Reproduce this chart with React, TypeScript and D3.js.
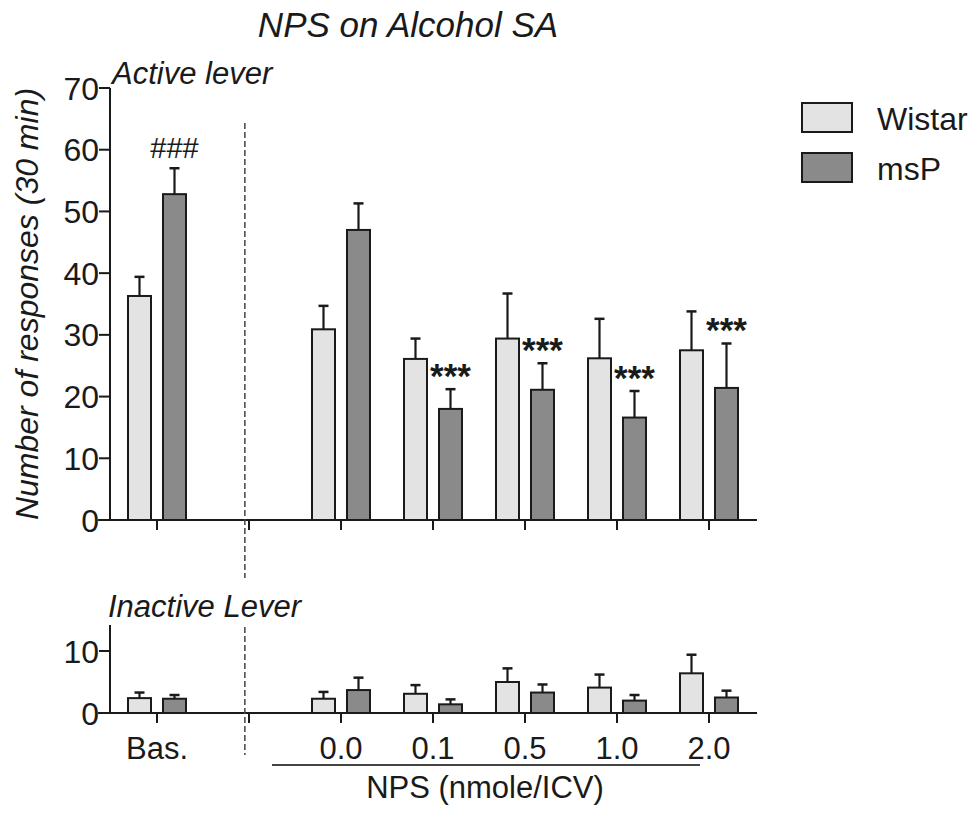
import React from "react";
import * as d3 from "d3";

const categories = ["Bas.", "", "0.0", "0.1", "0.5", "1.0", "2.0"];
const groups = ["Wistar", "msP"];

// Active lever (means and upper SEM)
const activeWistar = [36.3, null, 30.9, 26.1, 29.4, 26.2, 27.5];
const activeWistarErr = [3.1, null, 3.8, 3.3, 7.3, 6.4, 6.3];
const activeMsP = [52.8, null, 47.0, 18.0, 21.1, 16.6, 21.4];
const activeMsPErr = [4.2, null, 4.3, 3.2, 4.3, 4.3, 7.2];
const activeMarks = ["###", "", "", "***", "***", "***", "***"];

// Inactive lever
const inactiveWistar = [2.4, null, 2.3, 3.1, 5.0, 4.1, 6.4];
const inactiveWistarErr = [0.9, null, 1.1, 1.4, 2.2, 2.1, 3.0];
const inactiveMsP = [2.3, null, 3.7, 1.4, 3.3, 2.0, 2.5];
const inactiveMsPErr = [0.6, null, 2.0, 0.8, 1.3, 0.9, 1.1];

const activeTicks = [0, 10, 20, 30, 40, 50, 60, 70];
const inactiveTicks = [0, 10];

const FONT = "'Liberation Sans', Arial, Helvetica, sans-serif";
const LIGHT = "#e3e3e3";
const DARK = "#8a8a8a";
const INK = "#1a1a1a";

export default function App() {
  const x = d3.scalePoint<string>().domain(categories.map((c, i) => String(i))).range([157, 709]);
  const step = x.step();
  const yTop = d3.scaleLinear().domain([0, 70]).range([520, 88]);
  const yBot = d3.scaleLinear().domain([0, 10]).range([713, 651]);
  const axisX0 = 110;
  const axisX1 = x("6")! + 48;
  const barW = 23;
  const off = 17.5;
  const dashX = x("0")! + step * 0.955;

  const panel = (
    y: d3.ScaleLinear<number, number>,
    yMaxAxis: number,
    wVals: (number | null)[],
    wErr: (number | null)[],
    mVals: (number | null)[],
    mErr: (number | null)[],
    ticks: number[],
    key: string
  ) => {
    const base = y(0);
    const els: React.ReactNode[] = [];
    categories.forEach((c, i) => {
      const cx = x(String(i))!;
      [
        { v: wVals[i], e: wErr[i], dx: -off, fill: LIGHT },
        { v: mVals[i], e: mErr[i], dx: off, fill: DARK },
      ].forEach((b, j) => {
        if (b.v == null) return;
        const bx = cx + b.dx;
        const top = y(b.v);
        const et = y(b.v + (b.e || 0));
        els.push(
          <g key={`${key}-${i}-${j}`}>
            <line x1={bx} x2={bx} y1={top} y2={et} stroke={INK} strokeWidth={2.2} />
            <line x1={bx - 5} x2={bx + 5} y1={et} y2={et} stroke={INK} strokeWidth={2.5} />
            <rect x={bx - barW / 2} y={top} width={barW} height={base - top} fill={b.fill} stroke={INK} strokeWidth={2} />
          </g>
        );
      });
    });
    return (
      <g key={key}>
        {els}
        <line x1={axisX0} x2={axisX0} y1={y(yMaxAxis)} y2={base} stroke={INK} strokeWidth={2} />
        <line x1={axisX0 - 12} x2={axisX1} y1={base} y2={base} stroke={INK} strokeWidth={2} />
        {ticks.map((t) => (
          <g key={t}>
            <line x1={axisX0 - 11} x2={axisX0} y1={y(t)} y2={y(t)} stroke={INK} strokeWidth={2} />
            <text x={axisX0 - 11} y={y(t)} dy="0.36em" textAnchor="end" fontSize={32} fontFamily={FONT} fill={INK}>
              {t}
            </text>
          </g>
        ))}
        {categories.map((c, i) => (
          <line key={i} x1={x(String(i))!} x2={x(String(i))!} y1={base} y2={base + 10} stroke={INK} strokeWidth={2} />
        ))}
      </g>
    );
  };

  return (
    <svg width={980} height={814} style={{ position: "absolute", left: 0, top: 0, background: "#fff" }}>
      <text x={408} y={37} textAnchor="middle" fontSize={35} fontStyle="italic" fontFamily={FONT} fill={INK}>
        NPS on Alcohol SA
      </text>
      <text x={112} y={84} fontSize={31} fontStyle="italic" fontFamily={FONT} fill={INK}>
        Active lever
      </text>
      <text
        transform={`translate(38,304) rotate(-90)`}
        textAnchor="middle"
        fontSize={32}
        fontStyle="italic"
        fontFamily={FONT}
        fill={INK}
      >
        Number of responses (30 min)
      </text>

      {panel(yTop, 70, activeWistar, activeWistarErr, activeMsP, activeMsPErr, activeTicks, "top")}
      {activeMarks.map((m, i) => {
        if (!m) return null;
        const v = activeMsP[i]! + activeMsPErr[i]!;
        const cx = x(String(i))! + off;
        return m === "###" ? (
          <text key={i} x={cx} y={yTop(v) - 10} textAnchor="middle" fontSize={29} fontFamily={FONT} fill={INK}>
            {m}
          </text>
        ) : (
          <text key={i} x={cx} y={yTop(v) - 1} textAnchor="middle" fontSize={35} fontWeight="bold" fontFamily={FONT} fill={INK}>
            {m}
          </text>
        );
      })}
      <line x1={dashX} x2={dashX} y1={123} y2={578} stroke="#444" strokeWidth={1.5} strokeDasharray="6,3" />

      <text x={108} y={617} fontSize={31} fontStyle="italic" fontFamily={FONT} fill={INK}>
        Inactive Lever
      </text>
      {panel(yBot, 14.2, inactiveWistar, inactiveWistarErr, inactiveMsP, inactiveMsPErr, inactiveTicks, "bot")}
      <line x1={dashX} x2={dashX} y1={627} y2={755} stroke="#444" strokeWidth={1.5} strokeDasharray="6,3" />

      {categories.map((c, i) =>
        c ? (
          <text key={i} x={x(String(i))!} y={759} textAnchor="middle" fontSize={31} fontFamily={FONT} fill={INK}>
            {c}
          </text>
        ) : null
      )}
      <line x1={272} x2={700} y1={765} y2={765} stroke="#444" strokeWidth={2} />
      <text x={485} y={798} textAnchor="middle" fontSize={31} fontFamily={FONT} fill={INK}>
        NPS (nmole/ICV)
      </text>

      {groups.map((g, i) => (
        <g key={g}>
          <rect x={802} y={103 + i * 50} width={50} height={29} fill={i === 0 ? LIGHT : DARK} stroke={INK} strokeWidth={2} />
          <text x={877} y={118 + i * 50} dy="0.36em" fontSize={32} fontFamily={FONT} fill={INK}>
            {g}
          </text>
        </g>
      ))}
    </svg>
  );
}
